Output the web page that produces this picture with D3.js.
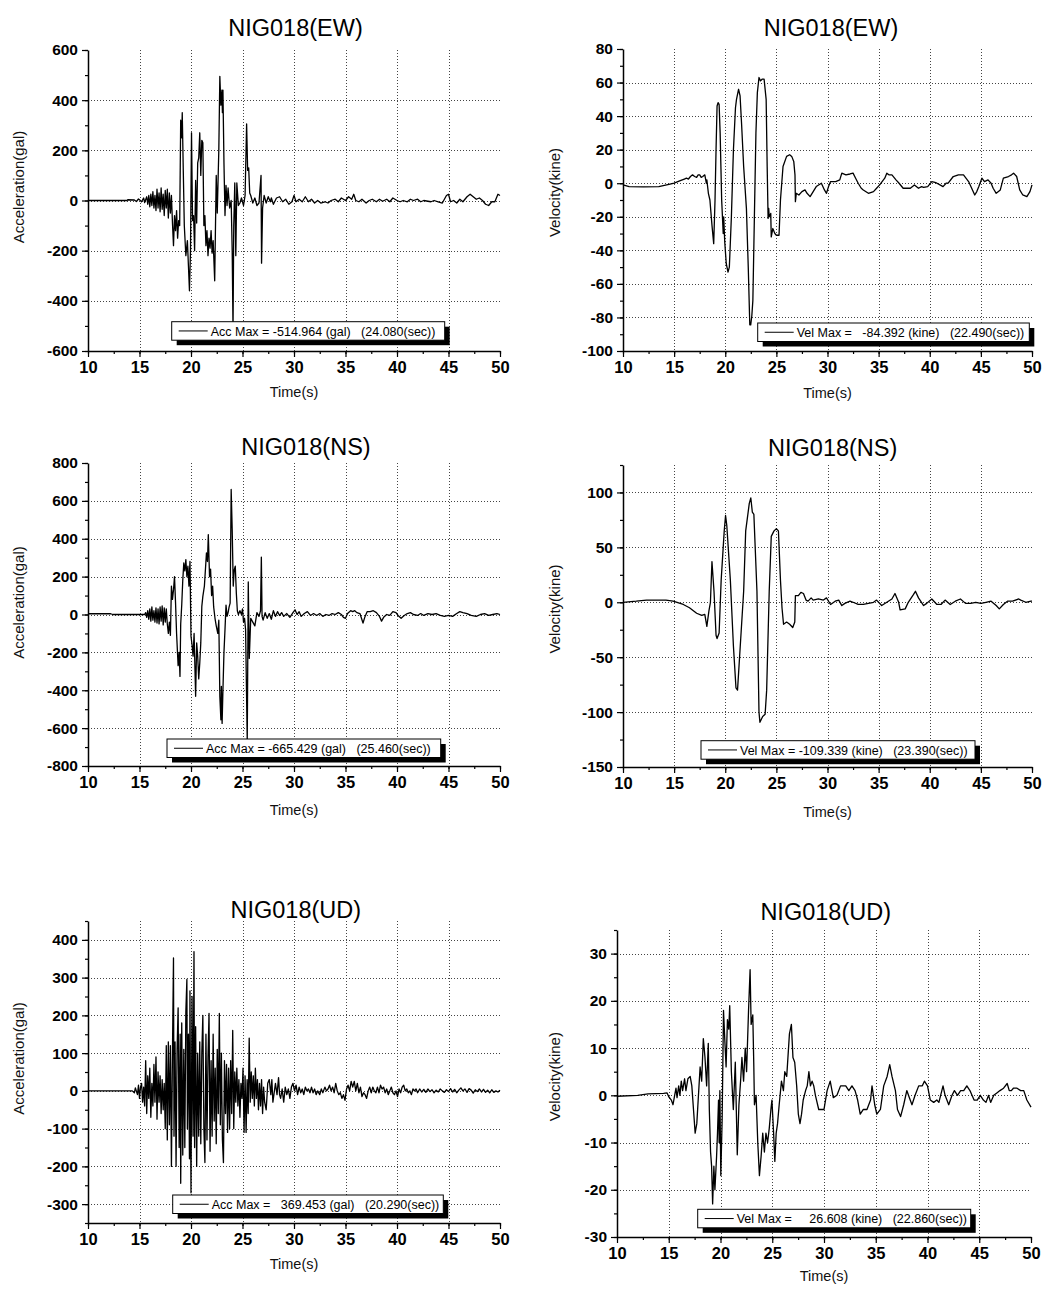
<!DOCTYPE html>
<html><head><meta charset="utf-8">
<script src="https://cdn.jsdelivr.net/npm/d3@7"></script>
<style>
body{margin:0;background:#fff}
svg{display:block}
text{font-family:"Liberation Sans",Arial,Helvetica,sans-serif}
</style>
</head><body>
<svg id="c" width="1048" height="1293"></svg>
<script>
// ---------------- DATA ----------------
const xTicks = [10,15,20,25,30,35,40,45,50];
const titles = ["NIG018(EW)","NIG018(EW)","NIG018(NS)","NIG018(NS)","NIG018(UD)","NIG018(UD)"];
const yLabels = ["Acceleration(gal)","Velocity(kine)","Acceleration(gal)","Velocity(kine)","Acceleration(gal)","Velocity(kine)"];
const xLabel = "Time(s)";
const legendTexts = [
  "Acc Max = -514.964 (gal)   (24.080(sec))",
  "Vel Max =   -84.392 (kine)   (22.490(sec))",
  "Acc Max = -665.429 (gal)   (25.460(sec))",
  "Vel Max = -109.339 (kine)   (23.390(sec))",
  "Acc Max =   369.453 (gal)   (20.290(sec))",
  "Vel Max =     26.608 (kine)   (22.860(sec))"
];
const ewAccTicks = [-600,-400,-200,0,200,400,600];
const ewVelTicks = [-100,-80,-60,-40,-20,0,20,40,60,80];
const nsAccTicks = [-800,-600,-400,-200,0,200,400,600,800];
const nsVelTicks = [-150,-100,-50,0,50,100];
const udAccTicks = [-300,-200,-100,0,100,200,300,400];
const udVelTicks = [-30,-20,-10,0,10,20,30];

const ewAcc = [[10,0],[13.8,0],[13.85,3],[14.5,2],[14.7,-4],[14.9,6],[15.0,3],[15.2,-5],[15.4,10],[15.5,-8],[15.7,15],[15.8,-15],[15.9,20],[16.0,-25],[16.1,25],[16.2,-20],[16.3,35],[16.4,-30],[16.5,20],[16.6,-40],[16.7,45],[16.8,-30],[16.9,30],[17.0,-45],[17.1,50],[17.2,-35],[17.3,25],[17.4,-60],[17.5,40],[17.6,-30],[17.7,45],[17.8,-70],[17.9,30],[18.0,-50],[18.1,20],[18.2,-90],[18.3,-180],[18.4,-60],[18.5,-120],[18.6,-40],[18.7,-150],[18.8,-80],[18.9,-100],[19.0,320],[19.1,250],[19.15,350],[19.25,120],[19.35,-100],[19.5,-220],[19.65,-160],[19.75,-260],[19.85,-360],[19.95,-200],[20.05,270],[20.15,-80],[20.25,-60],[20.35,-200],[20.45,80],[20.55,-90],[20.65,150],[20.75,170],[20.85,270],[20.95,100],[21.05,240],[21.15,230],[21.25,-100],[21.35,-60],[21.45,-180],[21.55,-120],[21.65,-220],[21.75,-150],[21.85,-190],[21.95,-120],[22.05,-210],[22.15,-160],[22.3,-320],[22.45,100],[22.55,-50],[22.7,200],[22.8,495],[22.9,380],[23.0,440],[23.05,350],[23.1,440],[23.2,150],[23.3,-60],[23.4,60],[23.5,-20],[23.6,50],[23.75,-30],[23.9,0],[24.0,-200],[24.08,-515],[24.15,-100],[24.25,70],[24.35,-220],[24.45,70],[24.6,-20],[24.75,-10],[24.9,10],[25.1,-20],[25.25,20],[25.4,305],[25.5,120],[25.6,130],[25.7,30],[25.8,20],[26.0,-10],[26.2,10],[26.4,-20],[26.6,-10],[26.8,100],[26.85,-250],[26.95,-30],[27.1,20],[27.3,-10],[27.5,15],[27.7,-5],[27.8,10],[28.0,-15],[28.3,10],[28.6,15],[28.9,-5],[29.2,5],[29.5,-15],[29.8,-5],[30.0,20],[30.2,-5],[30.5,5],[30.8,-5],[31.1,15],[31.4,-5],[31.7,5],[32.0,-10],[32.3,0],[32.6,-10],[33.0,-5],[33.3,-10],[33.6,0],[34.0,5],[34.3,-5],[34.6,10],[35.0,0],[35.3,15],[35.6,5],[35.8,25],[36.0,0],[36.3,-5],[36.6,5],[37.0,-10],[37.3,0],[37.6,5],[38.0,-5],[38.3,5],[38.6,-3],[39.0,5],[39.3,-5],[39.6,10],[40.0,0],[40.3,-5],[40.6,0],[41.0,-5],[41.3,5],[41.6,0],[42.0,5],[42.3,-5],[42.6,0],[43.0,-3],[43.3,-5],[43.6,0],[44.0,-5],[44.4,-10],[44.8,20],[45.0,25],[45.2,-5],[45.5,0],[45.8,-10],[46.1,5],[46.4,-5],[46.8,15],[47.1,25],[47.4,15],[47.7,5],[48.0,10],[48.3,0],[48.6,-15],[48.9,-20],[49.2,-5],[49.5,-5],[49.8,25],[50,20]];

const ewVel = [[10,-1],[10.6,-2],[12,-2.2],[13.5,-2],[14.6,-0.5],[15,0],[15.6,1.5],[16.0,2.5],[16.2,3],[16.4,2.5],[16.6,4],[16.8,5],[17.0,4],[17.2,3.5],[17.35,5],[17.5,5],[17.65,3.5],[17.8,4],[18.0,5],[18.15,0],[18.2,2],[18.35,-6],[18.5,-10],[18.7,-25],[18.87,-36],[19.0,-10],[19.1,20],[19.2,46],[19.3,48],[19.4,47],[19.5,30],[19.65,-10],[19.8,-30],[19.85,-20],[19.95,-35],[20.1,-48],[20.27,-53],[20.4,-50],[20.6,-20],[20.8,20],[21.0,45],[21.1,50],[21.3,56],[21.45,52],[21.6,35],[21.8,10],[22.07,-15],[22.25,-50],[22.4,-84.4],[22.49,-84.4],[22.6,-79],[22.7,-70],[22.85,-20],[23.0,30],[23.14,54],[23.3,63],[23.45,61],[23.6,62],[23.8,62],[24.0,50],[24.1,10],[24.19,-21],[24.25,-15],[24.3,-20],[24.45,-18],[24.5,-32],[24.65,-27],[24.85,-30],[25.0,-31],[25.26,-31],[25.4,-10],[25.65,10],[26.0,16],[26.3,17],[26.5,16],[26.7,13],[26.82,5],[26.86,-11],[26.95,-6],[27.2,-7],[27.5,-5],[27.8,-4],[28.0,-6],[28.3,-8],[28.6,-5],[28.9,-2],[29.4,0],[29.7,-4],[29.9,-6],[30.1,-2],[30.3,1],[30.8,1],[31.2,2],[31.4,6],[31.8,5],[32.2,5.5],[32.5,6],[32.75,3],[33.0,0],[33.3,-3],[33.5,-4],[34.0,-6],[34.5,-5],[34.8,-3],[35.1,-1],[35.6,3],[35.8,6],[36.0,5],[36.3,5],[36.7,2],[37.0,0],[37.4,-3],[38.1,-3],[38.5,-1],[38.9,-3],[39.2,-2],[39.4,-2.5],[39.8,-2],[40.2,1],[40.5,0.5],[40.7,0],[41.0,-1],[41.3,-2],[41.6,0],[41.8,0],[42.3,4],[42.8,5],[43.3,5],[43.8,1],[44.1,-3],[44.4,-7],[44.6,-5],[44.8,-2],[45.1,3],[45.35,1],[45.7,2],[46.0,0],[46.2,-3],[46.5,-6],[46.9,-4],[47.2,3],[47.7,4],[48.0,5],[48.2,6],[48.5,4],[48.8,-4],[49.1,-7],[49.5,-8],[49.8,-5],[50,-1]];

const nsAcc = [[10,4],[12.2,4],[12.4,0],[15.5,0],[15.6,10],[15.7,-15],[15.8,20],[15.9,-25],[16.0,30],[16.1,-35],[16.2,40],[16.3,-30],[16.4,20],[16.5,-40],[16.6,35],[16.7,-45],[16.8,30],[16.9,-50],[17.0,40],[17.1,-35],[17.2,45],[17.3,-55],[17.4,35],[17.5,-40],[17.6,30],[17.7,-50],[17.8,-100],[17.9,-40],[18.0,-110],[18.1,150],[18.2,80],[18.3,130],[18.4,200],[18.5,60],[18.6,-100],[18.75,-270],[18.85,-200],[18.93,-327],[19.0,-50],[19.1,50],[19.2,180],[19.3,272],[19.4,230],[19.5,290],[19.6,200],[19.7,255],[19.8,150],[19.9,280],[20.0,-115],[20.1,-160],[20.2,-220],[20.3,-100],[20.45,-432],[20.55,-150],[20.65,-220],[20.75,-340],[20.85,-257],[20.95,-150],[21.05,43],[21.15,96],[21.3,150],[21.5,325],[21.6,280],[21.68,422],[21.8,200],[21.9,240],[22.0,100],[22.1,150],[22.2,40],[22.33,-20],[22.45,-60],[22.6,-100],[22.7,-30],[22.8,-432],[22.9,-556],[22.95,-380],[23.02,-575],[23.1,-400],[23.2,-200],[23.3,-80],[23.4,50],[23.5,-10],[23.6,10],[23.7,40],[23.8,60],[23.9,660],[24.0,449],[24.1,150],[24.2,237],[24.3,255],[24.4,114],[24.5,20],[24.6,0],[24.75,20],[24.9,0],[25.0,30],[25.1,-40],[25.2,-20],[25.3,-80],[25.46,-665],[25.56,172],[25.66,-232],[25.8,-20],[26.0,-40],[26.2,-60],[26.4,10],[26.6,-10],[26.75,20],[26.83,303],[26.9,-10],[27.0,-30],[27.2,10],[27.4,-20],[27.6,5],[27.8,-25],[28.0,20],[28.2,-10],[28.4,15],[28.6,-5],[28.8,10],[29.0,-10],[29.3,5],[29.6,-15],[29.9,10],[30.1,25],[30.3,0],[30.5,15],[30.7,-10],[31.0,5],[31.3,15],[31.6,-5],[31.9,5],[32.2,-5],[32.5,5],[32.8,-10],[33.1,0],[33.4,-5],[33.7,5],[34.0,0],[34.3,10],[34.6,0],[34.8,-15],[35.0,-20],[35.2,5],[35.5,20],[35.7,15],[35.9,20],[36.1,10],[36.4,5],[36.7,-45],[36.9,-10],[37.1,15],[37.4,15],[37.7,20],[38.0,10],[38.3,-10],[38.5,-35],[38.7,-15],[39.0,0],[39.3,-5],[39.6,15],[39.9,10],[40.1,-5],[40.4,-20],[40.7,-5],[41.0,5],[41.3,10],[41.6,0],[42.0,-5],[42.3,5],[42.6,-5],[43.0,5],[43.4,0],[43.8,5],[44.2,-5],[44.6,-10],[45.0,-5],[45.4,-10],[45.8,5],[46.1,15],[46.4,10],[46.8,5],[47.2,-5],[47.7,-10],[48.1,0],[48.5,5],[48.9,-5],[49.3,0],[49.7,5],[50,0]];

const nsVel = [[10,0],[11.3,1],[12.3,2],[14.2,2],[14.9,1],[15.9,-2],[16.5,-5],[17.2,-10],[17.7,-12],[18.0,-11],[18.2,-22],[18.4,-8],[18.55,0],[18.7,37],[18.9,10],[19.1,-30],[19.2,-33],[19.4,-28],[19.6,20],[19.9,65],[20.03,79],[20.15,70],[20.5,20],[20.8,-40],[21.05,-78],[21.2,-80],[21.4,-50],[21.8,10],[22.0,65],[22.35,90],[22.5,95],[22.65,82],[22.8,80],[23.1,10],[23.3,-100],[23.39,-109.3],[23.66,-104],[23.9,-102],[24.05,-80],[24.3,10],[24.5,60],[24.77,65],[25.0,67],[25.2,65],[25.4,20],[25.55,-5],[25.7,-20],[26.0,-18],[26.3,-20],[26.6,-23],[26.8,-18],[26.86,6],[27.15,6],[27.4,9],[27.65,8],[27.9,2],[28.1,1],[28.4,4],[28.6,2],[29.1,3],[29.6,2],[29.9,4],[30.3,-2],[30.75,1],[31.1,2],[31.4,-3],[31.7,-1],[32.2,1],[32.5,0],[33.0,-2],[33.5,-2],[34.0,-1],[34.5,0],[34.8,2],[35.3,-3],[35.8,0],[36.3,3],[36.6,8],[36.96,0],[37.1,-7],[37.6,-6],[37.9,0],[38.4,7],[38.6,10],[38.9,4],[39.4,-3],[39.7,-1],[40.2,3],[40.7,-2],[41.1,-2],[41.5,2],[42.0,-2],[42.5,1],[43.0,3],[43.5,-1],[44.0,-1],[44.5,0],[45.0,-1],[45.5,0],[46.0,1],[46.5,-3],[46.8,-6],[47.2,-2],[47.6,1],[48.1,1],[48.7,3],[48.9,2],[49.4,0],[49.9,1],[50,1]];

const udAcc = [[10,0],[14.3,0],[14.5,-5],[14.6,8],[14.8,-10],[14.9,15],[15.0,-20],[15.1,10],[15.2,20],[15.3,-30],[15.4,10],[15.5,-40],[15.6,80],[15.7,-60],[15.8,40],[15.9,-20],[16.0,60],[16.1,-70],[16.2,20],[16.3,-40],[16.4,70],[16.5,-30],[16.6,90],[16.7,-75],[16.8,50],[16.9,-30],[17.0,40],[17.1,-60],[17.2,30],[17.3,-50],[17.4,20],[17.5,-100],[17.6,120],[17.7,-130],[17.8,130],[17.9,-90],[18.0,120],[18.1,-200],[18.2,100],[18.3,352],[18.35,-120],[18.45,130],[18.55,-200],[18.65,110],[18.75,220],[18.85,-150],[18.95,150],[19.0,-245],[19.1,180],[19.2,-170],[19.3,110],[19.4,-150],[19.5,210],[19.6,295],[19.65,-100],[19.75,150],[19.85,-180],[19.9,265],[19.95,-40],[20.0,-270],[20.1,250],[20.2,-120],[20.29,369],[20.35,-150],[20.45,170],[20.55,-200],[20.65,100],[20.75,-120],[20.85,130],[20.95,-140],[21.05,100],[21.15,200],[21.25,-100],[21.35,-190],[21.45,150],[21.55,-130],[21.65,90],[21.75,205],[21.85,-160],[21.95,80],[22.05,-120],[22.15,150],[22.25,-80],[22.35,60],[22.45,-140],[22.55,110],[22.65,-60],[22.75,205],[22.85,-90],[22.95,100],[23.05,-130],[23.15,-190],[23.25,80],[23.35,-60],[23.45,70],[23.55,-110],[23.65,60],[23.75,-100],[23.85,80],[23.95,-60],[24.05,160],[24.15,-100],[24.25,50],[24.35,-30],[24.45,60],[24.55,-40],[24.65,30],[24.75,-70],[24.85,20],[24.95,-20],[25.05,60],[25.15,-110],[25.25,40],[25.35,-110],[25.45,30],[25.55,-60],[25.65,140],[25.75,-30],[25.85,50],[25.95,-20],[26.05,40],[26.15,-40],[26.25,60],[26.35,-20],[26.45,30],[26.55,-50],[26.65,20],[26.75,-40],[26.85,30],[26.95,-60],[27.05,10],[27.15,-30],[27.3,-50],[27.45,20],[27.6,30],[27.75,-10],[27.85,30],[27.95,-30],[28.1,0],[28.2,20],[28.35,-10],[28.5,35],[28.6,-10],[28.7,-20],[28.85,5],[29.0,-30],[29.15,10],[29.3,-10],[29.45,5],[29.6,-20],[29.75,10],[29.9,20],[30.05,0],[30.2,15],[30.35,-10],[30.5,10],[30.65,-5],[30.8,5],[30.95,-10],[31.1,10],[31.25,0],[31.4,5],[31.55,-5],[31.7,10],[31.85,-5],[32.0,5],[32.15,-10],[32.3,0],[32.5,-10],[32.65,5],[32.8,-5],[33.0,10],[33.15,0],[33.3,5],[33.45,15],[33.6,0],[33.75,10],[33.9,-5],[34.05,20],[34.2,0],[34.35,-10],[34.5,-5],[34.65,-20],[34.8,-10],[34.95,-25],[35.1,5],[35.25,15],[35.4,0],[35.55,25],[35.7,10],[35.85,25],[36.0,0],[36.15,20],[36.3,-5],[36.45,10],[36.6,-15],[36.75,-5],[36.9,-10],[37.05,-20],[37.2,0],[37.35,10],[37.5,-5],[37.65,10],[37.8,0],[37.95,-5],[38.1,10],[38.25,-5],[38.4,15],[38.55,5],[38.7,10],[38.85,-5],[39.0,5],[39.15,-10],[39.3,0],[39.45,10],[39.6,-5],[39.75,-10],[39.9,0],[40.05,-15],[40.2,5],[40.35,-5],[40.5,10],[40.65,15],[40.8,0],[40.95,5],[41.1,-5],[41.25,0],[41.4,-10],[41.55,5],[41.7,0],[41.85,5],[42.0,-5],[42.2,5],[42.4,-3],[42.6,4],[42.8,-4],[43.0,5],[43.2,-2],[43.4,3],[43.6,-5],[43.8,2],[44.0,-3],[44.2,5],[44.4,0],[44.6,-4],[44.8,3],[45.0,-2],[45.2,6],[45.4,-3],[45.6,4],[45.8,-5],[46.0,2],[46.2,8],[46.4,0],[46.6,5],[46.8,-4],[47.0,6],[47.2,2],[47.4,-6],[47.6,3],[47.8,-2],[48.0,5],[48.2,-3],[48.4,4],[48.6,-4],[48.8,2],[49.0,-5],[49.2,3],[49.4,-4],[49.6,0],[49.8,-3],[50,2]];

const udVel = [[10,-0.2],[12,0],[13,0.3],[14.5,0.4],[14.84,0.5],[15.0,-0.3],[15.25,-1],[15.41,-2],[15.57,0],[15.7,1.5],[15.8,-0.5],[15.96,2],[16.08,0],[16.21,3],[16.34,1],[16.53,3.5],[16.66,1],[16.85,3.5],[17.07,4],[17.23,2],[17.39,-3],[17.55,-8],[17.71,-6],[17.87,0],[18.03,6],[18.18,3],[18.34,12],[18.5,8],[18.66,2],[18.82,11],[18.92,-3],[19.04,-12],[19.14,-15],[19.24,-23],[19.36,-15],[19.46,-20],[19.62,-13],[19.71,-8],[19.81,-1],[19.87,-10],[19.94,1],[20.03,-17],[20.16,-5],[20.29,18],[20.41,12],[20.54,6],[20.67,16],[20.8,14],[20.89,19],[21.05,5],[21.24,-3],[21.43,7],[21.62,-12.6],[21.78,-2],[21.94,3],[22.07,8],[22.23,3],[22.39,10],[22.52,5],[22.71,18],[22.86,26.6],[22.96,15],[23.12,17],[23.22,6],[23.28,-2],[23.44,0],[23.6,-10],[23.76,-17],[23.92,-13],[24.08,-8],[24.24,-12],[24.39,-8],[24.55,-10],[24.71,-7],[24.87,-3],[24.97,-1],[25.13,-8],[25.25,-14],[25.38,-8],[25.51,-6],[25.67,-2],[25.89,3],[26.08,1],[26.21,5],[26.4,4],[26.66,13],[26.85,15],[27.0,8],[27.17,7],[27.36,2],[27.52,-4],[27.68,-6],[27.83,-4],[27.99,-1],[28.22,1],[28.38,2],[28.54,5],[28.69,2],[28.85,3],[29.01,2],[29.17,0],[29.49,-3],[29.8,-3],[30.0,-3],[30.3,1],[30.6,3],[30.9,-0.5],[31.25,0],[31.6,2],[32.1,2],[32.4,1],[32.7,2],[33.0,1],[33.25,-1],[33.5,-4],[33.8,-3],[34.15,-3],[34.5,-1],[34.64,2],[34.9,-2],[35.1,-4],[35.45,-3],[35.77,2],[36.1,4],[36.35,6.5],[36.57,4],[36.9,1],[37.1,-3],[37.4,-4.5],[37.7,-2],[38.0,1],[38.25,-0.5],[38.5,-2],[38.8,0],[39.15,2],[39.5,2],[39.7,3],[40.0,2],[40.27,-1],[40.6,-1.5],[40.9,-1],[41.1,-1.5],[41.5,2],[41.7,0],[42.05,-2],[42.37,0],[42.6,1],[42.9,0],[43.2,1],[43.5,1],[43.8,2],[44.1,1],[44.5,-1],[44.8,-1],[45.1,0],[45.4,-1],[45.65,-1.5],[45.9,0],[46.1,-1.5],[46.4,0],[46.7,0.5],[47.0,1],[47.35,1.5],[47.7,2.5],[47.9,1],[48.1,1],[48.3,1.5],[48.65,1.5],[49.0,1],[49.3,1],[49.6,-1],[50,-2.5]];

// ---------------- LAYOUT ----------------
const panels = [
  {data:ewAcc, ticks:ewAccTicks, yDomain:[-600,600], minor:100, left:88, right:500, top:50, bottom:351, titleX:295.5, titleY:36, yLabX:18.3, yLabY:187, xLabY:397, leg:[171.7,321.7,273]},
  {data:ewVel, ticks:ewVelTicks, yDomain:[-100,80], minor:10, left:623, right:1032, top:49, bottom:351, titleX:831, titleY:36, yLabX:555, yLabY:192.5, xLabY:398, leg:[757.7,323,271.6]},
  {data:nsAcc, ticks:nsAccTicks, yDomain:[-800,800], minor:100, left:88, right:500, top:463, bottom:766, titleX:306, titleY:455, yLabX:18.3, yLabY:602.5, xLabY:815, leg:[167,739,273.7]},
  {data:nsVel, ticks:nsVelTicks, yDomain:[-150,125], minor:25, left:623, right:1032, top:465, bottom:767, titleX:832.7, titleY:456, yLabX:555, yLabY:609, xLabY:817, leg:[701,740.7,274]},
  {data:udAcc, ticks:udAccTicks, yDomain:[-350,450], minor:50, left:88, right:500, top:921, bottom:1223, titleX:295.8, titleY:918, yLabX:18.3, yLabY:1058.5, xLabY:1268.5, leg:[172.7,1195,270.6]},
  {data:udVel, ticks:udVelTicks, yDomain:[-30,35], minor:5, left:617, right:1031, top:930, bottom:1237, titleX:825.7, titleY:920, yLabX:555, yLabY:1076.7, xLabY:1281, leg:[697.7,1209.3,273]}
];

const svg = d3.select("#c");
const fmt = d => String(d);

panels.forEach((p, i) => {
  const x = d3.scaleLinear().domain([xTicks[0], xTicks[xTicks.length-1]]).range([p.left, p.right]);
  const y = d3.scaleLinear().domain(p.yDomain).range([p.bottom, p.top]);
  const g = svg.append("g");

  // grid
  const xGrid = xTicks.slice(1, -1);
  g.append("g").selectAll("line").data(xGrid).join("line")
    .attr("x1", d => Math.round(x(d)) + 0.5).attr("x2", d => Math.round(x(d)) + 0.5)
    .attr("y1", p.top).attr("y2", p.bottom)
    .attr("stroke", "#444").attr("stroke-width", 1).attr("stroke-dasharray", "1,2");
  const yGrid = p.ticks.filter(v => v > p.yDomain[0] && v < p.yDomain[1]);
  g.append("g").selectAll("line").data(yGrid).join("line")
    .attr("x1", p.left).attr("x2", p.right)
    .attr("y1", d => Math.round(y(d)) + 0.5).attr("y2", d => Math.round(y(d)) + 0.5)
    .attr("stroke", "#444").attr("stroke-width", 1).attr("stroke-dasharray", "1,2");

  // trace
  g.append("path").datum(p.data)
    .attr("d", d3.line().x(d => x(d[0])).y(d => y(d[1])))
    .attr("fill", "none").attr("stroke", "#000").attr("stroke-width", 1.3)
    .attr("stroke-linejoin", "round");

  // minor ticks
  const yMinor = d3.range(p.yDomain[0], p.yDomain[1] + 1e-9, p.minor);
  const xMinor = d3.range(10, 50 + 1e-9, 2.5);
  const ym = g.append("g").attr("transform", `translate(${p.left},0)`)
    .call(d3.axisLeft(y).tickValues(yMinor).tickSize(3).tickFormat(""));
  ym.select(".domain").remove();
  const xm = g.append("g").attr("transform", `translate(0,${p.bottom})`)
    .call(d3.axisBottom(x).tickValues(xMinor).tickSize(3).tickFormat(""));
  xm.select(".domain").remove();

  // major axes
  const ya = g.append("g").attr("transform", `translate(${p.left},0)`)
    .call(d3.axisLeft(y).tickValues(p.ticks).tickFormat(fmt).tickSize(6).tickSizeOuter(0).tickPadding(4));
  const xa = g.append("g").attr("transform", `translate(0,${p.bottom})`)
    .call(d3.axisBottom(x).tickValues(xTicks).tickFormat(fmt).tickSize(6).tickSizeOuter(0).tickPadding(4));
  [ya, xa, ym, xm].forEach(a => {
    a.selectAll("line").attr("stroke", "#000").attr("stroke-width", 1.2);
    a.select(".domain").attr("stroke", "#000").attr("stroke-width", 1.5);
  });
  ya.selectAll("text")
    .attr("font-family", "'Liberation Sans', Arial, sans-serif")
    .attr("font-size", 15.5).attr("font-weight", "bold").attr("fill", "#000");
  xa.selectAll("text")
    .attr("font-family", "'Liberation Sans', Arial, sans-serif")
    .attr("font-size", 16.5).attr("font-weight", "bold").attr("fill", "#000");

  // titles & labels
  g.append("text").attr("x", p.titleX).attr("y", p.titleY).attr("text-anchor", "middle")
    .attr("font-size", 23.5).attr("fill", "#000").text(titles[i]);
  g.append("text").attr("transform", `translate(${p.yLabX},${p.yLabY}) rotate(-90)`)
    .attr("text-anchor", "middle").attr("dy", "0.35em")
    .attr("font-size", 15).attr("fill", "#111").text(yLabels[i]);
  g.append("text").attr("x", (p.left + p.right) / 2).attr("y", p.xLabY)
    .attr("text-anchor", "middle").attr("font-size", 14.5).attr("fill", "#111").text(xLabel);

  // legend
  const [lx, ly, lw] = p.leg, lh = 18.5;
  const lg = g.append("g");
  lg.append("rect").attr("x", lx + 5).attr("y", ly + 5).attr("width", lw).attr("height", lh).attr("fill", "#000");
  lg.append("rect").attr("x", lx).attr("y", ly).attr("width", lw).attr("height", lh)
    .attr("fill", "#fff").attr("stroke", "#000").attr("stroke-width", 1);
  lg.append("line").attr("x1", lx + 7).attr("x2", lx + 36).attr("y1", ly + lh / 2).attr("y2", ly + lh / 2)
    .attr("stroke", "#000").attr("stroke-width", 1);
  lg.append("text").attr("x", lx + 39).attr("y", ly + 13.8).attr("font-size", 12.5)
    .attr("fill", "#000").style("white-space", "pre").attr("xml:space", "preserve").text(legendTexts[i]);
});
</script>
</body></html>
